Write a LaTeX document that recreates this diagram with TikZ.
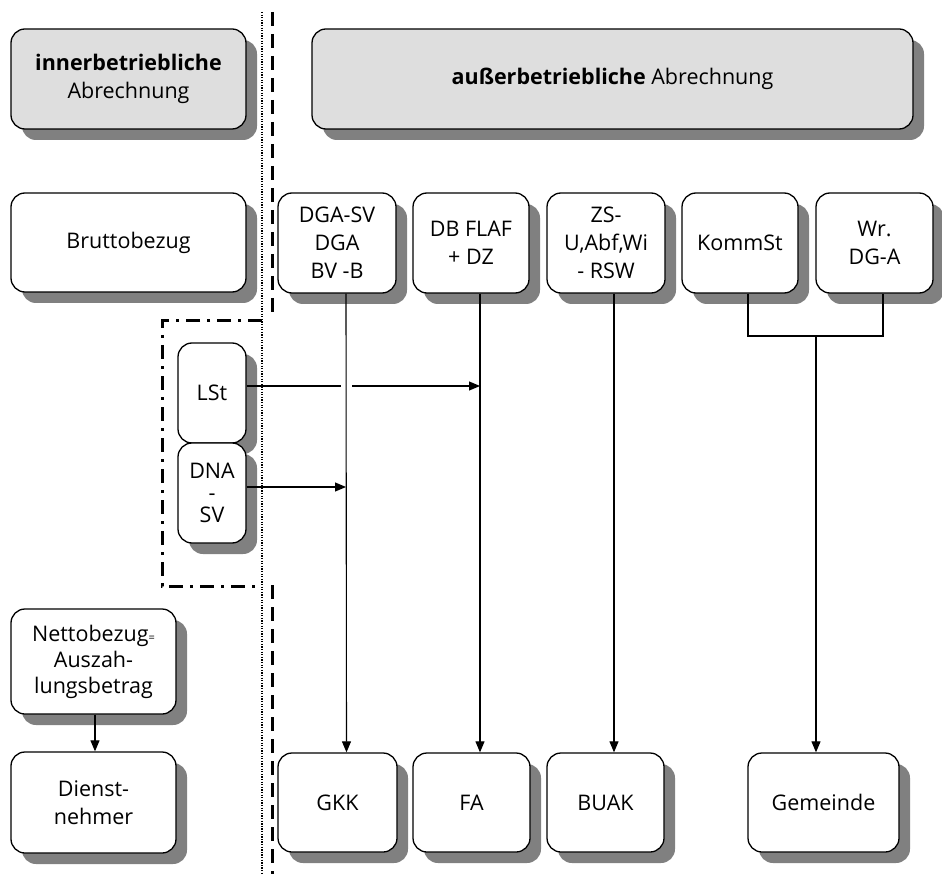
\documentclass[tikz,border=0pt]{standalone}
\usepackage{fontspec}
\setmainfont{Open Sans}
\usetikzlibrary{arrows.meta}
\definecolor{shadowgray}{HTML}{808080}
\definecolor{headfill}{HTML}{DEDEDE}
% #1 name, #2 x, #3 y (pixel units, y downward), #4 width, #5 height, #6 style, #7 text
\newcommand{\shbox}[7]{%
  \node[shadowbox, minimum width=#4pt, minimum height=#5pt] (#1shadow) at ({#2+11},{#3+11}) {};
  \node[#6, minimum width=#4pt, minimum height=#5pt] (#1) at (#2,#3) {#7};}
\begin{document}
\begin{tikzpicture}[x=1pt,y=-1pt,
  box/.style={draw=black, line width=1.3pt, rounded corners=14pt, fill=white,
    align=center, inner sep=1pt, font=\fontsize{21.5}{28}\selectfont},
  headbox/.style={box, fill=headfill},
  dnabox/.style={box, font=\fontsize{21.5}{22}\selectfont},
  nettobox/.style={box, font=\fontsize{21.5}{26}\selectfont},
  shadowbox/.style={fill=shadowgray, draw=none, rounded corners=14pt, inner sep=0pt},
  conn/.style={line width=1.1pt},
  arr/.style={conn, -{Triangle[length=11pt,width=9pt]}},
  dotline/.style={line width=1.4pt, dash pattern=on 1.3pt off 1.3pt},
  dashline/.style={line width=3pt, dash pattern=on 14pt off 8pt},
  dashdotline/.style={line width=3pt, dash pattern=on 14pt off 7pt on 3pt off 7pt}]
\useasboundingbox[fill=white] (0,0) rectangle (942,874);

% separators
\draw[dotline] (262,12) -- (262,874);
\draw[dashline] (272,12) -- (272,318);
\draw[dashline] (272,585) -- (272,874);
\draw[dashdotline] (262,321) -- (162,321) -- (162,586) -- (262,586);

% header boxes
\shbox{inner}{128.5}{79}{235}{100}{headbox}{\textbf{innerbetriebliche}\\Abrechnung}
\shbox{ausser}{612.5}{79}{601}{100}{headbox}{\textbf{außerbetriebliche} Abrechnung}

% row 2
\shbox{brutto}{128.5}{242.5}{235}{99}{box}{Bruttobezug}
\shbox{dga}{337}{243}{118}{100}{box}{DGA-SV\\DGA\\BV -B}
\shbox{dbflaf}{471}{243}{116}{100}{box}{DB FLAF\\+ DZ}
\shbox{zs}{606}{243}{118}{100}{box}{ZS-\\U,Abf,Wi\\- RSW}
\shbox{komm}{740}{243}{116}{100}{box}{KommSt}
\shbox{wr}{874.5}{243}{117}{100}{box}{Wr.\\DG-A}

% LSt / DNA-SV
\shbox{lst}{212}{393}{68}{100}{box}{LSt}
\shbox{dna}{212}{493}{68}{100}{dnabox}{DNA\\-\\SV}

% left bottom
\shbox{netto}{93.5}{661.5}{165}{105}{nettobox}{Nettobezug{\fontsize{11}{11}\selectfont=}\\Auszah-\\lungsbetrag}
\shbox{dienst}{93.5}{802.5}{165}{101}{box}{Dienst-\\nehmer}

% bottom row
\shbox{gkk}{337.5}{802.5}{119}{99}{box}{GKK}
\shbox{fa}{471.5}{802.5}{117}{99}{box}{FA}
\shbox{buak}{605.5}{802.5}{117}{99}{box}{BUAK}
\shbox{gem}{823.5}{802.5}{151}{99}{box}{Gemeinde}

% connectors
\draw[arr] ([xshift=9pt]dga.south) -- ([xshift=9pt]gkk.north);
\draw[arr] ([xshift=9pt]dbflaf.south) -- ([xshift=8.5pt]fa.north);
\draw[arr] ([xshift=8pt]zs.south) -- ([xshift=8.5pt]buak.north);

\coordinate (j) at (816,336);
\draw[conn] ([xshift=8pt]komm.south) |- (j) -| ([xshift=8.5pt]wr.south);
\draw[arr] (j) -- (gem.north -| j);

\coordinate (h1) at (341,386);
\coordinate (h2) at (352,386);
\coordinate (faline) at (480,386);
\draw[conn] ([yshift=7pt]lst.east) -- (h1);
\draw[arr] (h2) -- (faline);

\coordinate (gkkline) at (346,487);
\draw[arr] ([yshift=6pt]dna.east) -- (gkkline);

\draw[arr] ([xshift=1.5pt]netto.south) -- ([xshift=1.5pt]dienst.north);
\end{tikzpicture}
\end{document}
